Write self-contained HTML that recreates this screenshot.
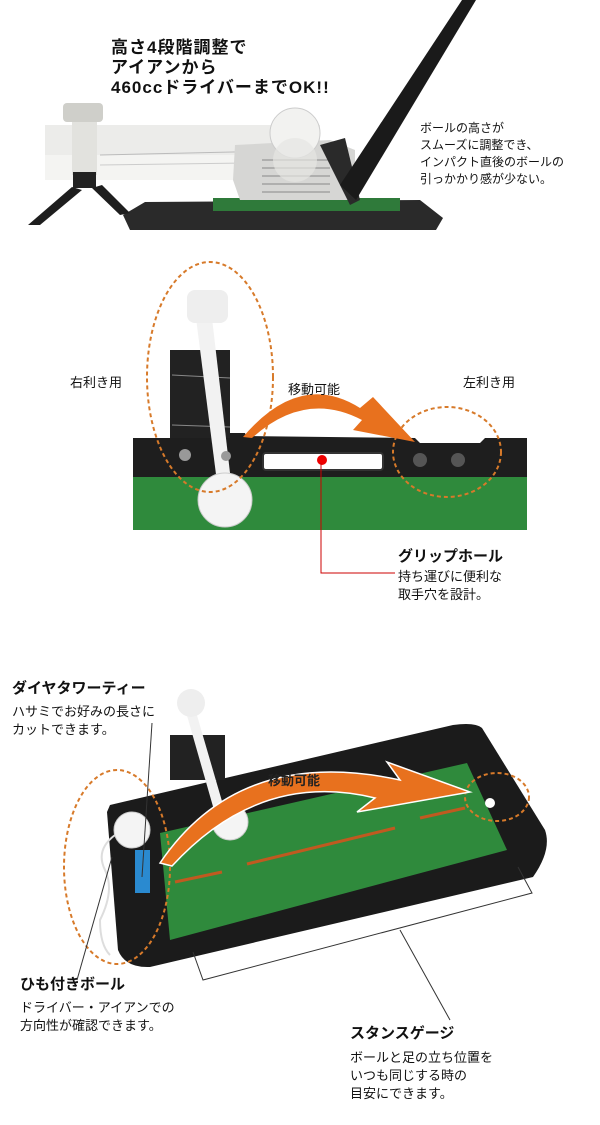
<!DOCTYPE html>
<html><head><meta charset="utf-8"><style>
html,body{margin:0;padding:0;background:#fff;}
body{width:600px;height:1125px;position:relative;overflow:hidden;font-family:"Liberation Sans","Noto Sans CJK JP",sans-serif;color:#111;}
.t{position:absolute;white-space:nowrap;font-size:13px;line-height:18px;}
.b{font-weight:bold;font-size:15px;}
</style></head><body>
<svg width="600" height="1125" style="position:absolute;left:0;top:0">
<!-- section 1 -->
<polygon points="123,215 145,202 420,200 443,218 436,230 130,230" fill="#2a2a2a"/>
<rect x="213" y="198" width="187" height="13" fill="#2f7a3a"/>
<polygon points="28,225 72,187 82,190 40,225" fill="#1e1e1e"/>
<polygon points="92,188 102,185 130,213 120,215" fill="#1e1e1e"/>
<rect x="45" y="125" width="275" height="32" fill="#ececea"/>
<rect x="45" y="155" width="275" height="25" fill="#f4f4f2"/>
<line x1="100" y1="155" x2="320" y2="150" stroke="#bbb"/>
<line x1="100" y1="165" x2="320" y2="162" stroke="#ccc"/>
<rect x="72" y="115" width="25" height="60" fill="#e2e2de"/>
<rect x="73" y="172" width="23" height="16" fill="#222"/>
<rect x="63" y="103" width="40" height="19" rx="4" fill="#cfcfca"/>
<polygon points="235,145 330,140 355,150 355,200 240,200 233,180" fill="#d6d6d4"/>
<g stroke="#888" stroke-width="1"><line x1="262" y1="160" x2="330" y2="160"/><line x1="262" y1="168" x2="330" y2="168"/><line x1="262" y1="176" x2="330" y2="176"/><line x1="262" y1="184" x2="330" y2="184"/><line x1="262" y1="192" x2="330" y2="192"/></g>
<polygon points="320,145 345,138 360,200 350,205" fill="#2a2a2a"/>
<polygon points="340,185 462,0 476,0 356,200" fill="#1a1a1a"/>
<circle cx="295" cy="133" r="25" fill="#f2f2f0" stroke="#ccc"/>
<circle cx="295" cy="160" r="22" fill="#e6e6e2" opacity="0.7"/>
<!-- section 2 -->
<rect x="133" y="470" width="394" height="60" fill="#2f8a3c"/>
<polygon points="133,438 170,438 170,433 245,433 246,436 415,438 420,443 480,443 485,438 527,438 527,477 133,477" fill="#1e1e1e"/>
<rect x="263" y="453" width="120" height="17" rx="3" fill="#fff" stroke="#333" stroke-width="2"/>
<rect x="170" y="350" width="60" height="88" fill="#222"/>
<line x1="172" y1="375" x2="230" y2="378" stroke="#888"/>
<line x1="172" y1="425" x2="230" y2="427" stroke="#888"/>
<polygon points="196,318 212,318 232,490 218,490" fill="#f2f2f2"/>
<rect x="187" y="290" width="41" height="33" rx="8" fill="#eee"/>
<circle cx="225" cy="500" r="27" fill="#f4f4f4" stroke="#ccc"/>
<circle cx="185" cy="455" r="6" fill="#999"/><circle cx="226" cy="456" r="5" fill="#999"/>
<circle cx="420" cy="460" r="7" fill="#555"/><circle cx="458" cy="460" r="7" fill="#555"/>
<ellipse cx="210" cy="377" rx="63" ry="115" fill="none" stroke="#d77a2a" stroke-width="2" stroke-dasharray="4,3"/>
<ellipse cx="447" cy="452" rx="54" ry="45" fill="none" stroke="#d77a2a" stroke-width="2" stroke-dasharray="4,3"/>
<path d="M243,437 Q300,370 360,408 L373,397 L415,442 L353,430 L362,420 Q305,390 252,438 Z" fill="#e8711e"/>
<circle cx="322" cy="460" r="5" fill="#e00"/>
<polyline points="321,463 321,573 395,573" fill="none" stroke="#c00" stroke-width="1"/>
<!-- section 3 -->
<path d="M110,805 L453,725 Q475,722 482,728 L545,830 Q552,850 533,877 L150,967 Q125,968 118,950 L107,812 Z" fill="#1b1b1b"/>
<polygon points="160,833 467,763 507,850 170,940" fill="#2f8a3c"/>
<line x1="175" y1="882" x2="222" y2="872" stroke="#c05a20" stroke-width="3"/>
<line x1="247" y1="864" x2="395" y2="828" stroke="#c05a20" stroke-width="3"/>
<line x1="420" y1="818" x2="465" y2="808" stroke="#c05a20" stroke-width="3"/>
<rect x="170" y="735" width="55" height="45" fill="#222"/>
<polygon points="186,712 196,712 226,815 216,817" fill="#f2f2f2"/>
<circle cx="191" cy="703" r="14" fill="#eee"/>
<circle cx="230" cy="822" r="18" fill="#f4f4f4" stroke="#ccc"/>
<rect x="135" y="850" width="15" height="43" fill="#2a8ad0"/>
<circle cx="132" cy="830" r="18" fill="#f4f4f4" stroke="#ccc"/>
<path d="M115,835 Q95,850 105,870 Q115,890 100,920 Q100,945 110,955" fill="none" stroke="#ddd" stroke-width="2"/>
<circle cx="490" cy="803" r="5" fill="#fff"/>
<ellipse cx="117" cy="867" rx="53" ry="97" fill="none" stroke="#d77a2a" stroke-width="2" stroke-dasharray="4,3"/>
<ellipse cx="497" cy="797" rx="32" ry="24" fill="none" stroke="#d77a2a" stroke-width="2" stroke-dasharray="4,3"/>
<path d="M160,863 Q240,745 400,780 L387,762 L470,792 L357,812 L375,798 Q260,770 172,866 Z" fill="#e8711e" stroke="#fff" stroke-width="1.5"/>
<polyline points="193,952 203,980 532,893 518,867" fill="none" stroke="#333" stroke-width="1"/>
<line x1="400" y1="930" x2="450" y2="1020" stroke="#333" stroke-width="1"/>
<line x1="152" y1="723" x2="142" y2="877" stroke="#333" stroke-width="1"/>
<line x1="112" y1="857" x2="77" y2="980" stroke="#333" stroke-width="1"/>
</svg>
<div class="t b" style="left:111px;top:38px;line-height:20px;font-size:17px;letter-spacing:1px">高さ4段階調整で<br>アイアンから<br>460ccドライバーまでOK!!</div>
<div class="t" style="left:420px;top:120px;font-size:12px;line-height:17px">ボールの高さが<br>スムーズに調整でき、<br>インパクト直後のボールの<br>引っかかり感が少ない。</div>
<div class="t" style="left:70px;top:374px">右利き用</div>
<div class="t" style="left:288px;top:381px">移動可能</div>
<div class="t" style="left:463px;top:374px">左利き用</div>
<div class="t b" style="left:398px;top:548px">グリップホール</div>
<div class="t" style="left:398px;top:568px">持ち運びに便利な<br>取手穴を設計。</div>
<div class="t b" style="left:12px;top:680px">ダイヤタワーティー</div>
<div class="t" style="left:12px;top:703px">ハサミでお好みの長さに<br>カットできます。</div>
<div class="t" style="left:268px;top:772px;font-weight:bold;color:#222">移動可能</div>
<div class="t b" style="left:20px;top:976px">ひも付きボール</div>
<div class="t" style="left:20px;top:999px">ドライバー・アイアンでの<br>方向性が確認できます。</div>
<div class="t b" style="left:350px;top:1025px">スタンスゲージ</div>
<div class="t" style="left:350px;top:1049px">ボールと足の立ち位置を<br>いつも同じする時の<br>目安にできます。</div>
</body></html>
